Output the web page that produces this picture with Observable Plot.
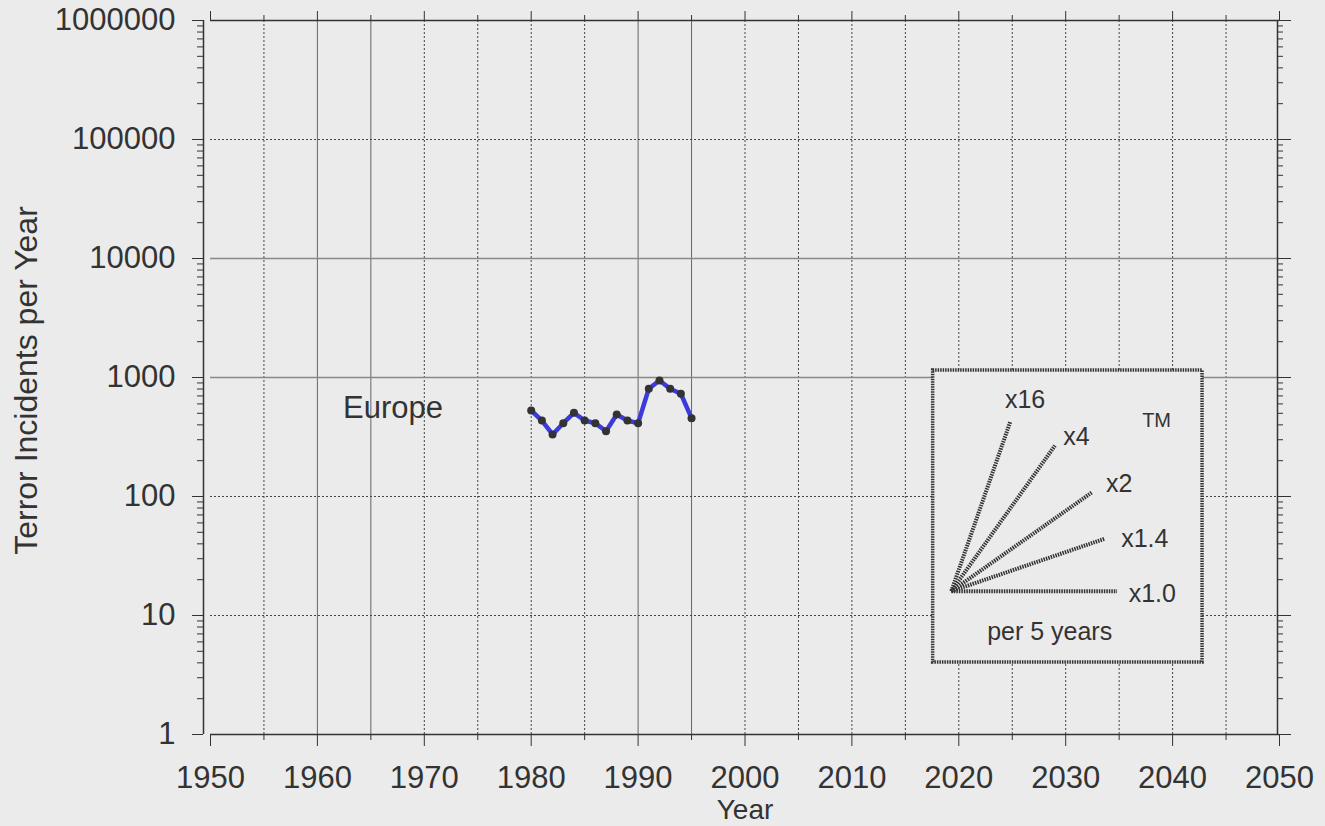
<!DOCTYPE html>
<html><head><meta charset="utf-8">
<script src="https://cdn.jsdelivr.net/npm/d3@7"></script>
<script src="https://cdn.jsdelivr.net/npm/@observablehq/plot@0.6"></script>
<style>
html,body{margin:0;padding:0;background:#ebebeb;}
#chart{width:1325px;height:826px;}
</style></head><body><div id="chart"></div>
<script>
// ---- data ----
const years = [1980,1981,1982,1983,1984,1985,1986,1987,1988,1989,1990,1991,1992,1993,1994,1995];
const incidents = [528,435,332,413,505,435,413,354,489,435,413,804,944,804,730,455];
const regionName = "Europe";

// ---- tick labels ----
const majorYears = [1950,1960,1970,1980,1990,2000,2010,2020,2030,2040,2050];
const minorYears = [1955,1965,1975,1985,1995,2005,2015,2025,2035,2045];
const decadeTicks = [1,10,100,1000,10000,100000,1000000];
const minorMultipliers = [2,3,4,5,6,7,8,9];
const minorValues = [];
for (const d of decadeTicks.slice(0,-1)) for (const m of minorMultipliers) minorValues.push(d*m);

// ---- growth-rate key (per 5 years) ----
const rateLabels = ["x16","x4","x2","x1.4","x1.0"];
const rateEndYear = [2024.8, 2029.0, 2032.5, 2033.6, 2034.8];
const rateEndValue = [421, 268, 109, 44, 16];
const rateLabelYear = [2026.2, 2031.0, 2035.0, 2037.4, 2038.1];
const rateLabelValue = [641, 319, 128, 44, 15.3];
const rateOriginYear = 2019.3, rateOriginValue = 16;
const keyBox = [{x1:2017.6, x2:2042.8, y1:4.03, y2:1145}];
const keyNotes = [{t:"per 5 years", x:2028.5, y:7.2, s:25},{t:"TM", x:2038.5, y:435, s:20}];
const regionPos = [{t:regionName, x:1962.4, y:554}];

const data = years.map((y,i)=>({year:y, value:incidents[i]}));
const rays = rateLabels.map((l,i)=>({label:l, x2:rateEndYear[i], y2:rateEndValue[i], lx:rateLabelYear[i], ly:rateLabelValue[i]}));

const ink = "#333";
const blank = () => "";

const chart = Plot.plot({
  width:1325, height:826,
  marginLeft:210, marginRight:46, marginTop:20, marginBottom:92,
  style:{background:"transparent", fontFamily:"'Liberation Sans', Arial, Helvetica, sans-serif", fontSize:"31px", color:ink, overflow:"visible"},
  x:{domain:[1950,2050]},
  y:{type:"log", domain:[1,1000000]},
  marks:[
    // grid
    Plot.ruleX(minorYears.concat(majorYears.slice(1,-1)).filter(y=>![1960,1965,1990,1995].includes(y)), {stroke:"#444", strokeWidth:1, strokeDasharray:"2,2"}),
    Plot.ruleX([1960,1965,1990,1995], {stroke:"#666", strokeWidth:1}),
    Plot.ruleY([10,100,100000], {stroke:"#444", strokeWidth:1, strokeDasharray:"2,2"}),
    Plot.ruleY([1000,10000], {stroke:"#888", strokeWidth:1.5}),
    // frame
    Plot.ruleX([1950], {dx:-7, stroke:ink, strokeWidth:1.5}),
    Plot.ruleX([2050], {dx:-2, stroke:ink, strokeWidth:1.5}),
    Plot.ruleY([1000000], {stroke:ink, strokeWidth:1.5}),
    Plot.ruleY([1], {stroke:ink, strokeWidth:1.5}),
    // axes
    Plot.axisX(majorYears, {anchor:"bottom", tickSize:12, tickPadding:19, tickFormat:d=>String(d), label:null, stroke:ink, fill:ink}),
    Plot.axisX(minorYears, {anchor:"bottom", tickSize:6, tickFormat:blank, label:null, stroke:ink}),
    Plot.axisX(majorYears, {anchor:"top", tickSize:10, tickFormat:blank, label:null, stroke:ink}),
    Plot.axisX(minorYears, {anchor:"top", tickSize:6, tickFormat:blank, label:null, stroke:ink}),
    Plot.axisY(decadeTicks, {anchor:"left", dx:-7, tickSize:11, tickPadding:17, tickFormat:d3.format("d"), label:null, stroke:ink, fill:ink}),
    Plot.axisY(minorValues, {anchor:"left", dx:-7, tickSize:6, tickFormat:blank, label:null, stroke:ink}),
    Plot.axisY(decadeTicks, {anchor:"right", dx:-2, tickSize:13, tickFormat:blank, label:null, stroke:ink}),
    Plot.axisY(minorValues, {anchor:"right", dx:-2, tickSize:5, tickFormat:blank, label:null, stroke:ink}),
    // titles
    Plot.text(["Year"], {frameAnchor:"bottom", dy:65, lineAnchor:"top", fontSize:28, fill:ink}),
    Plot.text(["Terror Incidents per Year"], {frameAnchor:"left", dx:-184, dy:3, rotate:-90, textAnchor:"middle", fontSize:32, fill:ink}),
    // data
    Plot.line(data, {x:"year", y:"value", stroke:"#3b3bdc", strokeWidth:4.5}),
    Plot.dot(data, {x:"year", y:"value", r:4, fill:"#333", stroke:"none"}),
    Plot.text(regionPos, {x:"x", y:"y", text:"t", textAnchor:"start", fontSize:31, fill:ink}),
    // key
    Plot.rect(keyBox, {x1:"x1", x2:"x2", y1:"y1", y2:"y2", fill:"#ebebeb", stroke:"#333", strokeWidth:3.5, strokeDasharray:"1.5,1"}),
    Plot.link(rays, {x1:()=>rateOriginYear, y1:()=>rateOriginValue, x2:"x2", y2:"y2", stroke:"#333", strokeWidth:4, strokeDasharray:"1.5,1"}),
    Plot.text(rays, {x:"lx", y:"ly", text:"label", fontSize:25, fill:ink}),
    Plot.text(keyNotes, {x:"x", y:"y", text:"t", fontSize:d=>d.s, fill:ink})
  ]
});
document.getElementById("chart").appendChild(chart);
</script></body></html>
